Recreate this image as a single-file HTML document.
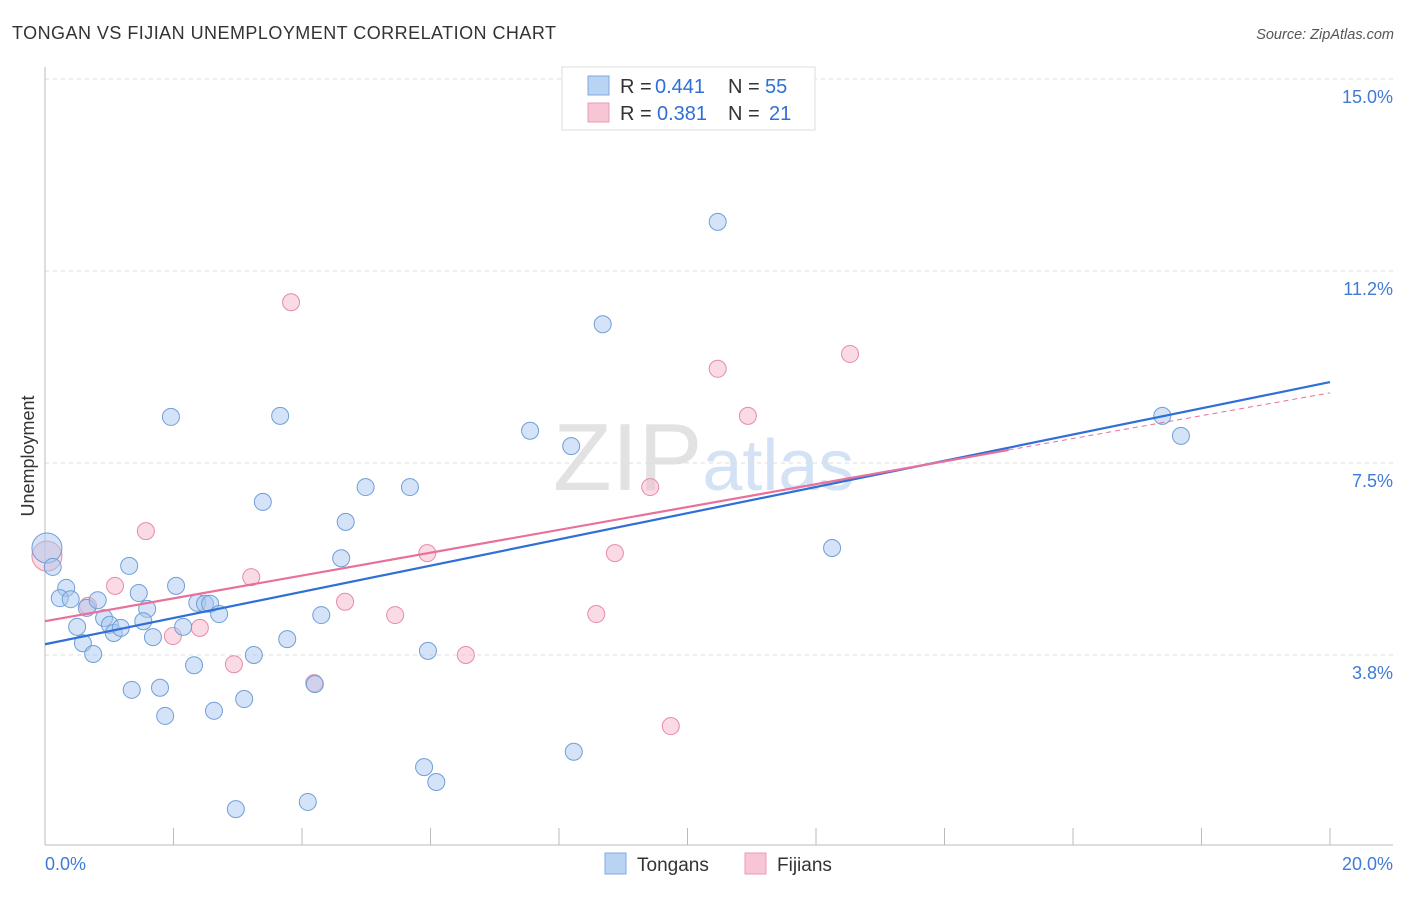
<!DOCTYPE html>
<html><head><meta charset="utf-8"><style>
body{margin:0;background:#fff;font-family:"Liberation Sans",sans-serif;}
svg text{font-family:"Liberation Sans",sans-serif;}
</style></head><body>
<svg id="chart" width="1406" height="892" xmlns="http://www.w3.org/2000/svg">
<text x="12" y="39" font-size="18" fill="#333" textLength="544" lengthAdjust="spacing">TONGAN VS FIJIAN UNEMPLOYMENT CORRELATION CHART</text>
<text x="1394" y="39" font-size="14.5" fill="#555" text-anchor="end" font-style="italic">Source: ZipAtlas.com</text>
<text x="553" y="490" font-size="96" fill="#e2e2e2" font-family="Liberation Serif">ZIP<tspan font-family="Liberation Sans" font-size="72" fill="#d3e2f4">atlas</tspan></text>
<g id="grid"></g>
<g id="axes"></g>
<g id="marks"></g>
<text transform="translate(34,456) rotate(-90)" font-size="18" fill="#333" text-anchor="middle">Unemployment</text>
<g>
<rect x="562" y="67" width="253" height="63" fill="#fff" stroke="#ddd"/>
<rect x="588" y="76" width="21" height="19" fill="#b9d3f3" stroke="#7ea8df"/>
<rect x="588" y="103" width="21" height="19" fill="#f8c5d5" stroke="#e99ab5"/>
<text x="620" y="93" font-size="20" fill="#333">R =</text>
<text x="655" y="93" font-size="20" fill="#2f6fd6">0.441</text>
<text x="728" y="93" font-size="20" fill="#333">N =</text>
<text x="765" y="93" font-size="20" fill="#2f6fd6">55</text>
<text x="620" y="120" font-size="20" fill="#333">R =</text>
<text x="657" y="120" font-size="20" fill="#2f6fd6">0.381</text>
<text x="728" y="120" font-size="20" fill="#333">N =</text>
<text x="769" y="120" font-size="20" fill="#2f6fd6">21</text>
</g>
<g>
<rect x="605" y="853" width="21" height="21" fill="#b9d3f3" stroke="#7ea8df"/>
<text x="637" y="871" font-size="19" fill="#333">Tongans</text>
<rect x="745" y="853" width="21" height="21" fill="#f8c5d5" stroke="#e99ab5"/>
<text x="777" y="871" font-size="19" fill="#333">Fijians</text>
</g>
</svg>
<script>
const yTicks=[15.0,11.25,7.5,3.75];
const yTickLabels=["15.0%","11.2%","7.5%","3.8%"];
const xTickLabels=["0.0%","20.0%"];
const tonganX=[0.03,0.12,0.33,0.23,0.40,0.65,0.82,0.50,0.92,1.01,1.07,1.18,0.59,0.75,1.31,1.46,1.59,1.53,1.68,1.96,2.04,2.15,2.37,2.49,2.57,2.71,2.32,1.35,1.79,1.87,2.63,3.10,3.25,2.97,3.39,3.66,3.77,4.09,4.20,4.30,4.61,4.68,4.99,5.68,5.96,5.90,6.09,7.55,8.19,8.68,8.23,10.47,12.25,17.39,17.68];
const tonganY=[5.84,5.47,5.06,4.86,4.84,4.67,4.82,4.30,4.47,4.34,4.18,4.28,3.98,3.77,5.49,4.96,4.65,4.41,4.10,8.40,5.10,4.30,4.77,4.75,4.75,4.55,3.55,3.07,3.11,2.56,2.66,2.89,3.75,0.74,6.74,8.42,4.06,0.88,3.18,4.53,5.64,6.35,7.03,7.03,3.83,1.56,1.27,8.13,7.83,10.21,1.86,12.21,5.84,8.42,8.03];
const fijianX=[0.03,0.67,1.09,1.57,1.99,2.41,2.94,3.21,3.83,4.19,4.67,5.45,5.95,6.55,8.58,8.87,9.42,9.74,10.47,10.94,12.53];
const fijianY=[5.68,4.71,5.10,6.17,4.12,4.28,3.57,5.27,10.64,3.20,4.79,4.53,5.74,3.75,4.55,5.74,7.03,2.36,9.34,8.42,9.63];
const tonganTrend=[3.96,9.08];
const fijianTrend=[4.41,8.87];
const NS="http://www.w3.org/2000/svg";
const X=v=>45+v*1285/20, Y=v=>79+(15-v)*51.2;
function mk(t,a,p){const e=document.createElementNS(NS,t);for(const k in a)e.setAttribute(k,a[k]);document.getElementById(p).appendChild(e);return e;}
yTicks.forEach((t,i)=>{
 const l=mk('line',{x1:45,x2:1393,y1:Y(t),y2:Y(t),stroke:'#ddd','stroke-dasharray':'4,4'},'grid');
 
 
 const tx=mk('text',{x:1393,y:Y(t)+24,'font-size':18,fill:'#3f7bd6','text-anchor':'end'},'axes');tx.textContent=yTickLabels[i];
 
 
});
let a=mk('line',{x1:45,x2:45,y1:67,y2:845,stroke:'#bbb'},'axes');


a=mk('line',{x1:45,x2:1393,y1:845,y2:845,stroke:'#bbb'},'axes');


for(let i=0;i<=10;i++){const t=mk('line',{x1:X(i*2),x2:X(i*2),y1:828,y2:845,stroke:'#bbb'},'axes');
 
 }
[[0,'start',45],[20,'end',1393]].forEach((d,i)=>{const t=mk('text',{x:d[2],y:870,'font-size':18,fill:'#3f7bd6','text-anchor':d[1]},'axes');t.textContent=xTickLabels[i];
 
 });
function pts(xs,ys,fill,stroke,name){xs.forEach((x,i)=>{const r=i==0?15:8.5;const c=mk('circle',{cx:X(x),cy:Y(ys[i]),r:r,fill:fill,'fill-opacity':0.5,stroke:stroke,'stroke-width':1},'marks');
 
 });}
pts(fijianX,fijianY,'#f5b8cb','#e88aa8','fijian-point');
pts(tonganX,tonganY,'#a9c8ef','#6f9fd8','tongan-point');
let l=mk('line',{x1:X(0),y1:Y(tonganTrend[0]),x2:X(20),y2:Y(tonganTrend[1]),stroke:'#2f6fd6','stroke-width':2.2},'marks');


const fm=v=>fijianTrend[0]+(fijianTrend[1]-fijianTrend[0])*v/20;
l=mk('line',{x1:X(0),y1:Y(fm(0)),x2:X(15),y2:Y(fm(15)),stroke:'#e8709a','stroke-width':2.2},'marks');


l=mk('line',{x1:X(15),y1:Y(fm(15)),x2:X(20),y2:Y(fm(20)),stroke:'#e8709a','stroke-width':1,'stroke-dasharray':'5,4'},'marks');


</script>
</body></html>
